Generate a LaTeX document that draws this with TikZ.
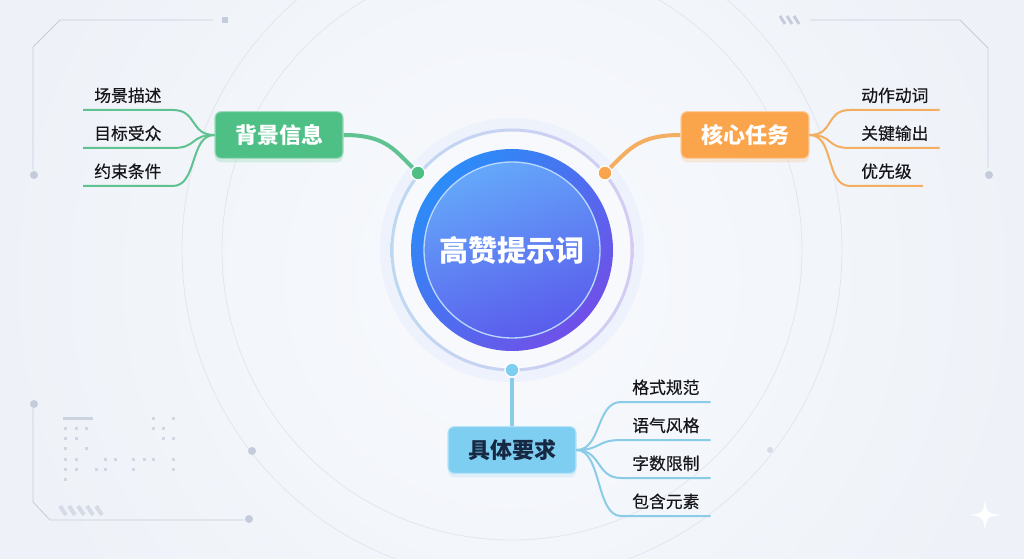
\documentclass[tikz,border=0pt]{standalone}
\usepackage{fontspec}
\setmainfont{Noto Sans CJK SC}
\newfontfamily\leaffont[FakeBold=0.35]{Noto Sans CJK SC}
\usepackage{xcolor}
\usepackage{tikz}
\usetikzlibrary{shadows}

\definecolor{bgpaper}{RGB}{238,242,248}
\definecolor{bglight}{RGB}{248,250,253}
\definecolor{deco}{RGB}{196,203,218}
\definecolor{ringblue}{RGB}{190,216,242}
\definecolor{ringpurple}{RGB}{212,204,242}
\definecolor{halo}{RGB}{234,240,252}
\definecolor{coreblue}{RGB}{44,140,247}
\definecolor{corepurple}{RGB}{112,80,232}
\definecolor{innerblue}{RGB}{100,168,250}
\definecolor{innerpurple}{RGB}{90,92,236}
\definecolor{greenbox}{RGB}{78,192,134}
\definecolor{greenline}{RGB}{96,194,144}
\definecolor{orangebox}{RGB}{250,164,76}
\definecolor{orangeline}{RGB}{243,174,98}
\definecolor{bluebox}{RGB}{126,206,242}
\definecolor{blueline}{RGB}{138,204,232}
\definecolor{bluetext}{RGB}{22,40,66}
\definecolor{leaftext}{RGB}{22,22,26}

\begin{document}
\begin{tikzpicture}[x=0.75pt,y=-0.75pt,
  branch/.style={rounded corners=4.5pt, minimum width=96pt, minimum height=35pt,
    font=\bfseries\fontsize{16.5}{18}\selectfont, text=white, line width=0.8pt},
  leaf/.style={anchor=south west, inner xsep=8.25pt, inner ysep=5pt,
    font=\leaffont\fontsize{12.6}{14}\selectfont, text=leaftext},
  knot/.style={circle, inner sep=0pt, minimum size=10.5pt, draw=white, line width=1pt},
  faint/.style={draw=deco, line width=0.6pt}]
 \useasboundingbox (0,0) rectangle (1024,559);
 \fill[bgpaper] (0,0) rectangle (1024,559);
 \begin{scope}
 \clip (0,0) rectangle (1024,559);
 \shade[inner color=bglight, outer color=bgpaper] (512,280) circle[radius=520];
 % background arcs and frames
 \draw[faint, opacity=0.35] (512,250) circle[radius=290];
 \draw[faint, opacity=0.35] (512,250) circle[radius=330];
 \draw[faint] (33,170) -- (33,47) -- (60,20) -- (213,20);
 \fill[deco] (222,17) rectangle (228,23);
 \fill[deco] (34,175) circle[radius=4];
 \draw[faint] (810,20) -- (960,20) -- (988,48) -- (988,168);
 \fill[deco] (989,175) circle[radius=4];
 \foreach \x in {780,787,794}
   \draw[deco, line width=2.2pt] (\x,16) -- (\x+5,24);
 \fill[deco] (34,404) circle[radius=4];
 \draw[faint] (33,408) -- (33,502) -- (50,520) -- (244,520);
 \fill[deco] (249,519) circle[radius=4];
 \fill[deco] (252,451) circle[radius=4];
 \fill[deco, opacity=0.6] (770,450) circle[radius=3];
 \foreach \x in {60,69,78,87,96}
   \draw[deco, opacity=0.6, line width=3pt] (\x,506) -- (\x+6,515);
 \fill[deco, opacity=0.8] (63,417) rectangle (93,420);
 \foreach \x/\y in {65/428,76/428,86/428,153/428,163/428,65/438,76/438,163/438,173/438,
   65/448,86/448,65/459,76/459,105/459,115/459,133/459,144/459,153/459,173/459,
   65/469,76/469,96/469,105/469,133/469,173/469,65/479,153/418,173/418}
   \fill[deco, opacity=0.7] (\x-1.5,\y-1.5) rectangle (\x+1.5,\y+1.5);
 \fill[white] (985,500) .. controls (987,513) .. (1000,515) .. controls (987,517) .. (985,530)
   .. controls (983,517) .. (970,515) .. controls (983,513) .. (985,500);
 \end{scope}

 % centre
 \fill[halo, opacity=0.7] (512,250) circle[radius=132];
 \fill[white, opacity=0.6] (512,250) circle[radius=119];
 \shade[left color=ringblue, right color=ringpurple, even odd rule]
   (512,250) circle[radius=121.5] (512,250) circle[radius=118.5];
 \shade[top color=coreblue, bottom color=corepurple, shading angle=45] (512,250) circle[radius=101];
 \node[circle, minimum size=132pt, inner sep=0pt, top color=innerblue, bottom color=innerpurple,
   shading angle=20, draw=white!55!innerblue, line width=1pt, text=white,
   font=\bfseries\fontsize{21.75}{24}\selectfont] (core) at (512,250) {高赞提示词};

 \node[knot, fill=greenbox] (gknot) at (418,173) {};
 \node[knot, fill=orangebox] (oknot) at (605,173) {};
 \node[knot, fill=bluebox] (bknot) at (512,370) {};

 \node[branch, fill=greenbox, draw=greenbox!55!white,
   drop shadow={shadow xshift=0pt, shadow yshift=-3pt, opacity=0.18, fill=greenbox}] (bg) at (279,135) {背景信息};
 \node[branch, fill=orangebox, draw=orangebox!55!white,
   drop shadow={shadow xshift=0pt, shadow yshift=-3pt, opacity=0.18, fill=orangebox}] (task) at (745,135) {核心任务};
 \node[branch, fill=bluebox, draw=bluebox!55!white, text=bluetext,
   drop shadow={shadow xshift=0pt, shadow yshift=-3pt, opacity=0.18, fill=bluebox}] (req) at (512,450) {具体要求};

 \node[leaf] (scene) at (83,110) {场景描述};
 \node[leaf] (audience) at (83,148) {目标受众};
 \node[leaf] (limit) at (83,186) {约束条件};
 \node[leaf] (verb) at (850,110) {动作动词};
 \node[leaf] (output) at (850,148) {关键输出};
 \node[leaf] (priority) at (850,186) {优先级};
 \node[leaf] (format) at (621,402) {格式规范};
 \node[leaf] (tone) at (621,440) {语气风格};
 \node[leaf] (count) at (621,478) {字数限制};
 \node[leaf] (elements) at (621,516) {包含元素};

 \draw[greenline, line width=3pt] (bg.east) .. controls +(40,0) and +(-25,-25) .. (gknot);
 \draw[orangeline, line width=3pt] (task.west) .. controls +(-40,0) and +(25,-25) .. (oknot);
 \draw[blueline, line width=3pt] (bknot) -- (req.north);

 \foreach \n in {scene,audience,limit}
   \draw[greenline, line width=1.5pt] (bg.west) .. controls +(-25,0) and +(25,0) .. (\n.south east) -- (\n.south west);
 \foreach \n in {verb,output,priority}
   \draw[orangeline, line width=1.5pt] (task.east) .. controls +(25,0) and +(-25,0) .. (\n.south west) -- (\n.south east);
 \foreach \n in {format,tone,count,elements}
   \draw[blueline, line width=1.5pt] (req.east) .. controls +(25,0) and +(-25,0) .. (\n.south west) -- (\n.south east);
\end{tikzpicture}
\end{document}
